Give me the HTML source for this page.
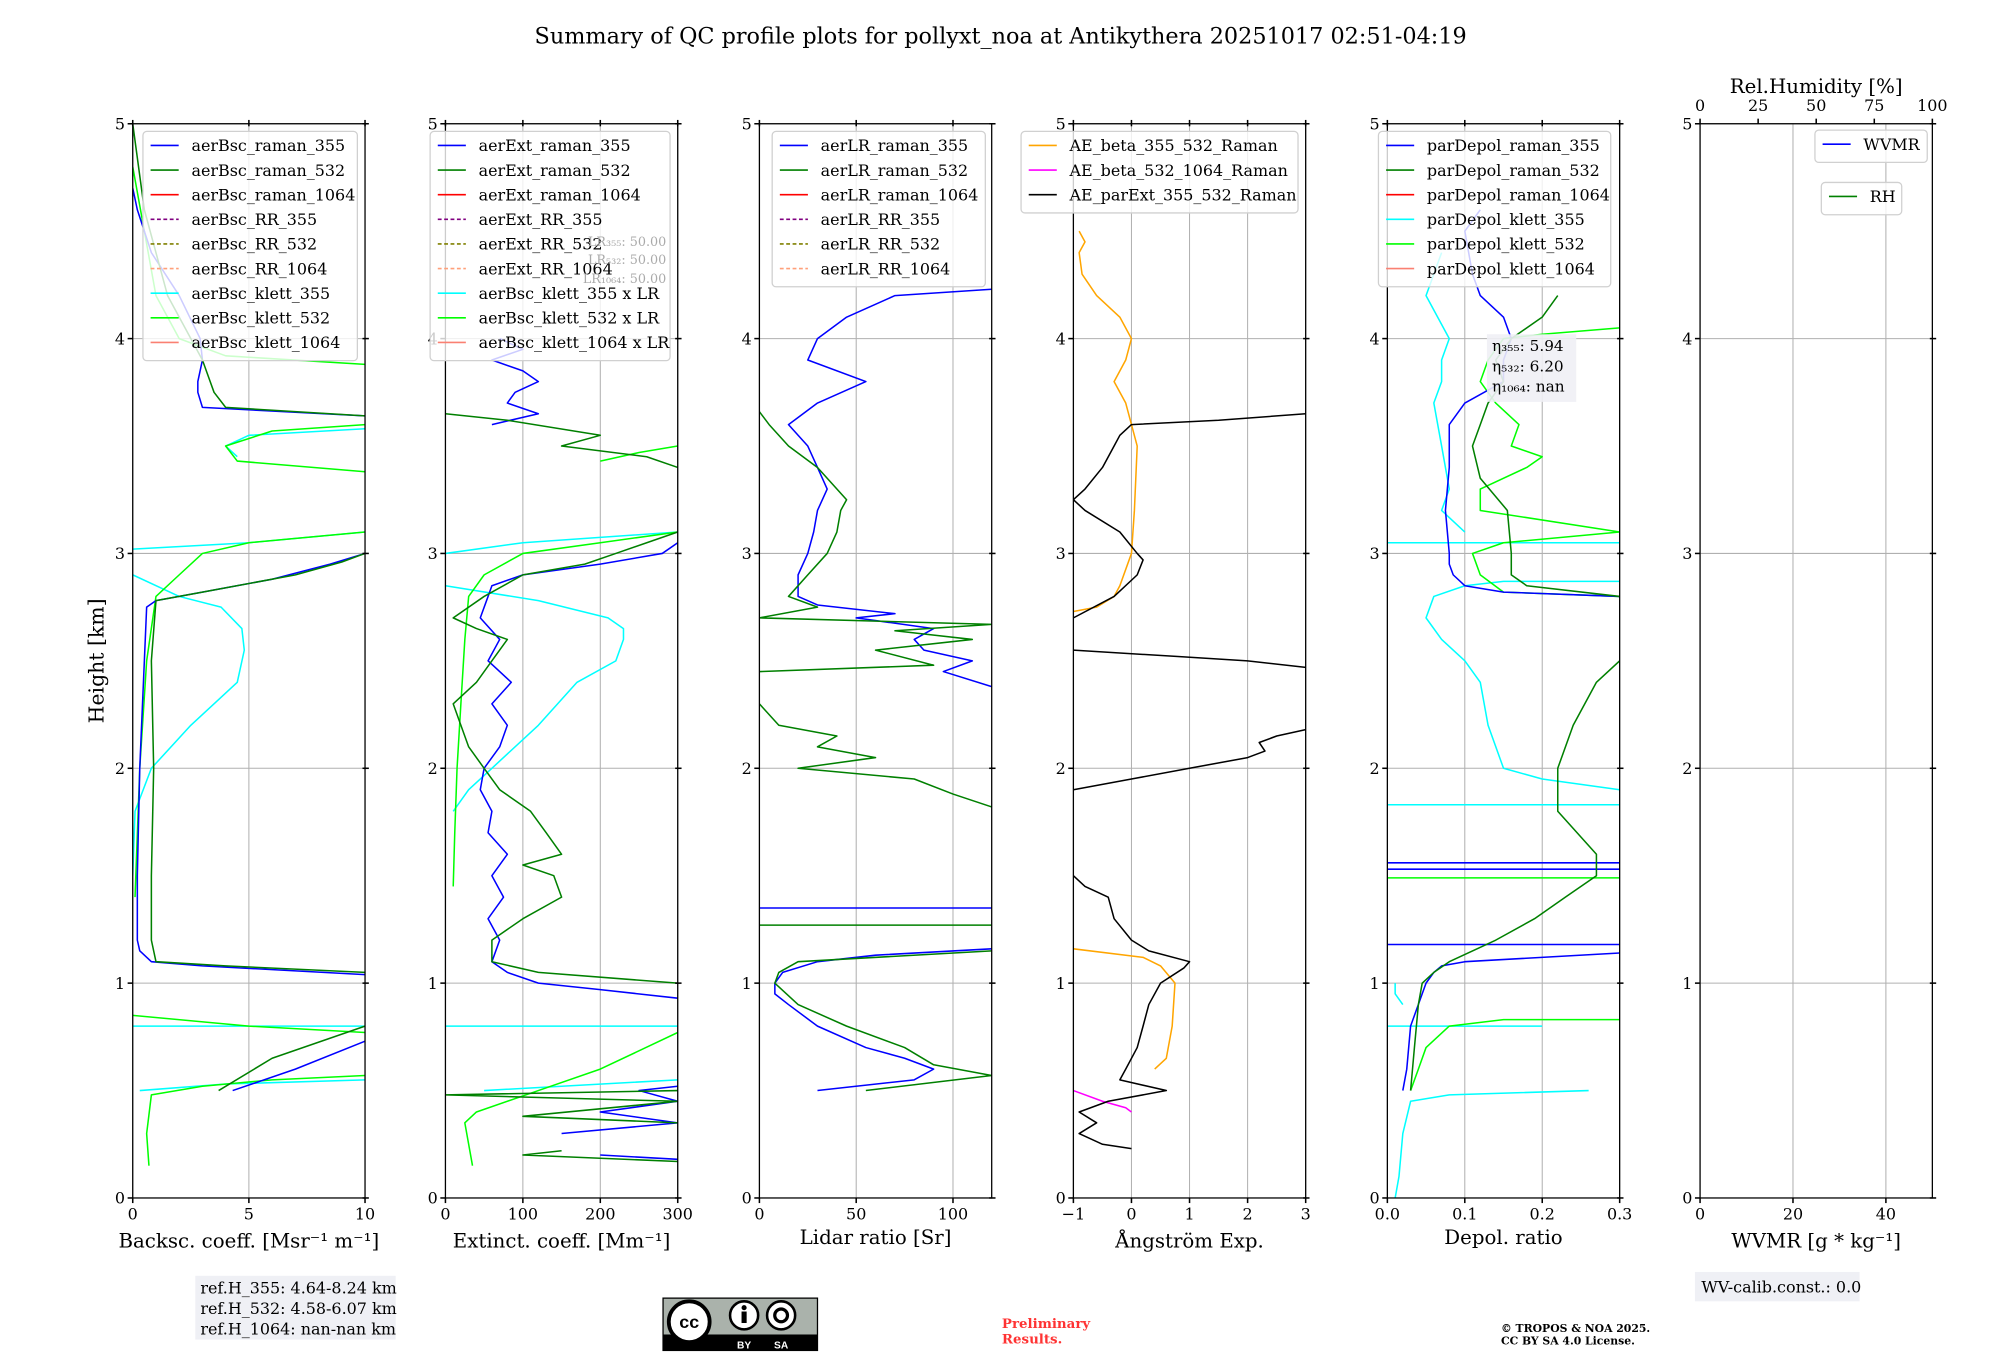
<!DOCTYPE html>
<html><head><meta charset="utf-8"><style>
html,body{margin:0;padding:0;background:#fff;}
svg{display:block;font-family:"DejaVu Serif","Liberation Serif",serif;}
</style></head><body>
<svg id="fig" width="2000" height="1360" viewBox="0 0 1567 1066" preserveAspectRatio="none" xmlns="http://www.w3.org/2000/svg">
<rect width="1567" height="1066" fill="#fff"/>
<text x="784" y="34" font-size="17.5" text-anchor="middle">Summary of QC profile plots for pollyxt_noa at Antikythera 20251017 02:51-04:19</text>
<text transform="translate(81,518) rotate(-90)" font-size="16" text-anchor="middle">Height [km]</text>
<g id="panels"></g>
<g id="extras">
<rect x="153" y="1000" width="157" height="50" fill="#eff0f5"/>
<text x="157" y="1014" font-size="12.5">ref.H_355: 4.64-8.24 km</text>
<text x="157" y="1030" font-size="12.5">ref.H_532: 4.58-6.07 km</text>
<text x="157" y="1046" font-size="12.5">ref.H_1064: nan-nan km</text>
<g>
<rect x="519" y="1017" width="122" height="42" fill="#000"/>
<rect x="520" y="1018" width="120" height="28" fill="#aab2ab"/>
<circle cx="540" cy="1036" r="16" fill="#fff" stroke="#000" stroke-width="3"/>
<text x="540" y="1041" font-size="14" font-weight="bold" text-anchor="middle" font-family="Liberation Sans,sans-serif">cc</text>
<circle cx="583" cy="1031" r="11" fill="#fff" stroke="#000" stroke-width="2"/>
<rect x="581" y="1028" width="4" height="9" fill="#000"/><circle cx="583" cy="1025" r="2" fill="#000"/>
<circle cx="612" cy="1031" r="11" fill="#fff" stroke="#000" stroke-width="2"/>
<circle cx="612" cy="1031" r="5" fill="none" stroke="#000" stroke-width="2.5"/>
<text x="583" y="1057" font-size="8" fill="#fff" text-anchor="middle" font-family="Liberation Sans,sans-serif" font-weight="bold">BY</text>
<text x="612" y="1057" font-size="8" fill="#fff" text-anchor="middle" font-family="Liberation Sans,sans-serif" font-weight="bold">SA</text>
</g>
<text x="785" y="1041" font-size="10.5" font-weight="bold" fill="#ff3333">Preliminary</text>
<text x="785" y="1053" font-size="10.5" font-weight="bold" fill="#ff3333">Results.</text>
<text x="1176" y="1044" font-size="8.5" font-weight="bold">© TROPOS &amp; NOA 2025.</text>
<text x="1176" y="1054" font-size="8.5" font-weight="bold">CC BY SA 4.0 License.</text>
<rect x="1328" y="997" width="129" height="23" fill="#eff0f5"/>
<text x="1333" y="1013" font-size="12.5">WV-calib.const.: 0.0</text>
</g>
</svg>
<script>
// ---- data: heights (km) and values; null breaks a line ----
const bsc355H = [0.5,0.6,0.73,null,1.04,1.08,1.1,1.15,1.2,1.5,2.0,2.5,2.75,2.78,2.82,2.88,2.95,3.0,null,3.64,3.68,3.75,3.8,3.9,4.0,4.2,4.4,4.6,4.7];
const bsc355V = [4.3,7,10,null,10,3,0.8,0.3,0.2,0.2,0.3,0.5,0.6,1,3,6,8.5,10,null,10,3,2.8,2.8,3,2.9,2,0.8,0.2,0];
const bsc532H = [0.5,0.65,0.8,null,1.05,1.08,1.1,1.2,1.5,2.0,2.5,2.78,2.82,2.9,2.96,3.0,null,3.64,3.68,3.75,3.9,4.2,4.6,5.0];
const bsc532V = [3.7,6,10,null,10,4,1,0.8,0.8,0.9,0.8,1,3,7,9,10,null,10,4,3.5,3,1.5,0.5,0];
const bscK355H = [0.5,0.53,0.55,null,0.8,0.8,null,1.5,1.8,2.0,2.2,2.4,2.55,2.65,2.75,2.8,2.9,null,3.02,3.05,3.1,null,3.45,3.5,3.55,3.58];
const bscK355V = [0.3,4,10,null,0,10,null,0,0.1,0.8,2.5,4.5,4.8,4.7,3.8,2,0,null,0,5,10,null,4.5,4,5,10];
const bscK532H = [0.15,0.3,0.48,0.52,0.55,0.57,null,0.85,0.8,0.77,null,1.4,2.0,2.5,2.8,2.9,3.0,3.05,3.1,null,3.38,3.43,3.5,3.57,3.6,null,3.88,3.92,4.0,4.2,4.5,4.8];
const bscK532V = [0.7,0.6,0.8,3,6,10,null,0,5,10,null,0.1,0.3,0.6,1,2,3,5,10,null,10,4.5,4,6,10,null,10,4,2,1,0.5,0];

const ext355H = [0.18,0.2,null,0.3,0.35,0.4,0.45,0.5,0.52,null,0.93,0.97,1.0,1.05,1.1,1.2,1.3,1.4,1.5,1.6,1.7,1.8,1.9,2.0,2.1,2.2,2.3,2.4,2.5,2.6,2.7,2.8,2.85,2.9,2.95,3.0,3.05,null,3.6,3.65,3.7,3.75,3.8,3.85,3.9,3.95,4.0];
const ext355V = [300,200,null,150,300,200,300,250,300,null,300,200,120,80,60,70,55,75,60,80,55,60,45,50,70,80,60,85,55,70,45,55,60,100,200,280,300,null,60,120,80,90,120,100,60,100,70];
const ext532H = [0.17,0.2,0.22,null,0.35,0.38,0.45,0.48,0.5,null,0.8,null,1.0,1.05,1.1,1.2,1.3,1.4,1.5,1.55,1.6,1.7,1.8,1.9,2.0,2.1,2.2,2.3,2.4,2.5,2.6,2.65,2.7,2.8,2.9,2.95,3.0,3.05,3.1,null,3.4,3.45,3.5,3.55,3.62,3.65];
const ext532V = [300,100,150,null,300,100,300,0,300,null,300,null,300,120,60,60,100,150,140,100,150,130,110,70,50,30,20,10,40,60,80,40,10,50,100,180,220,260,300,null,300,260,150,200,80,0];
const extK355H = [0.5,0.52,0.55,null,0.8,0.8,null,1.8,1.9,2.0,2.2,2.4,2.5,2.6,2.65,2.7,2.78,2.85,null,3.0,3.05,3.1];
const extK355V = [50,150,300,null,0,300,null,10,30,60,120,170,220,230,230,210,120,0,null,0,100,300];
const extK532H = [0.15,0.25,0.35,0.4,0.5,0.6,0.77,null,1.45,1.7,2.0,2.3,2.6,2.8,2.9,3.0,3.05,3.1,null,3.43,3.47,3.5];
const extK532V = [35,30,25,40,120,200,300,null,10,12,15,20,25,30,50,100,200,300,null,200,250,300];

const lr355H = [0.5,0.55,0.6,0.65,0.7,0.8,0.9,0.95,1.0,1.05,1.1,1.13,1.16,null,1.35,1.35,null,2.38,2.45,2.5,2.55,2.6,2.65,2.7,2.72,2.76,2.8,2.9,3.0,3.1,3.2,3.3,3.4,3.5,3.6,3.7,3.8,3.9,4.0,4.1,4.2,4.23];
const lr355V = [30,80,90,75,55,30,15,8,8,12,30,60,120,null,0,120,null,120,95,110,85,80,90,50,70,30,20,20,25,28,30,35,30,25,15,30,55,25,30,45,70,120];
const lr532H = [0.5,0.57,0.62,0.7,0.8,0.9,1.0,1.05,1.1,1.15,null,1.27,1.27,null,1.82,1.88,1.95,2.0,2.05,2.1,2.15,2.2,2.3,null,2.45,2.48,2.55,2.6,2.64,2.67,2.7,2.75,2.8,2.9,3.0,3.1,3.2,3.25,3.3,3.4,3.5,3.6,3.66];
const lr532V = [55,120,90,75,45,20,8,10,20,120,null,0,120,null,120,100,80,20,60,30,40,10,0,null,0,90,60,110,70,120,0,30,15,25,35,40,42,45,40,30,15,5,0];

const aeBetaH = [0.6,0.65,0.8,1.0,1.08,1.12,1.16,null,2.73,2.75,2.8,2.85,3.0,3.2,3.5,3.7,3.8,3.9,4.0,4.1,4.2,4.3,4.4,4.45,4.5];
const aeBetaV = [0.4,0.6,0.7,0.75,0.5,0.2,-1,null,-1,-0.6,-0.3,-0.2,0,0.05,0.1,-0.1,-0.3,-0.1,0,-0.2,-0.6,-0.85,-0.9,-0.8,-0.9];
const ae1064H = [0.5,0.45,0.42,0.4];
const ae1064V = [-1,-0.5,-0.1,0];
const aeExtH = [0.23,0.25,0.3,0.35,0.4,0.45,0.5,0.55,0.6,0.7,0.8,0.9,1.0,1.07,1.1,1.15,1.2,1.3,1.4,1.45,1.5,null,1.9,1.95,2.0,2.05,2.08,2.12,2.15,2.18,null,2.55,2.52,2.5,2.47,null,2.7,2.8,2.9,2.97,3.0,3.1,3.2,3.25,3.3,3.4,3.5,3.55,3.6,3.62,3.65];
const aeExtV = [0,-0.5,-0.9,-0.6,-0.9,-0.4,0.6,-0.2,-0.1,0.1,0.2,0.3,0.5,0.9,1,0.3,0,-0.3,-0.4,-0.8,-1,null,-1,0,1,2,2.3,2.2,2.5,3,null,-1,0.8,2,3,null,-1,-0.3,0.1,0.2,0.1,-0.2,-0.8,-1,-0.8,-0.5,-0.3,-0.2,0,1.5,3];

const dp355H = [0.5,0.6,0.8,1.0,1.05,1.08,1.1,1.14,null,1.18,1.18,null,1.53,1.53,null,1.56,1.56,null,2.8,2.82,2.85,2.9,2.95,3.0,3.2,3.4,3.6,3.7,3.8,3.9,4.0,4.1,4.2,4.3,4.5,4.6];
const dp355V = [0.02,0.025,0.03,0.05,0.06,0.07,0.1,0.3,null,0,0.3,null,0,0.3,null,0,0.3,null,0.3,0.15,0.1,0.085,0.08,0.08,0.075,0.08,0.08,0.1,0.15,0.15,0.16,0.15,0.12,0.11,0.1,0.12];
const dp532H = [0.5,0.7,0.9,1.0,1.05,1.1,1.2,1.3,1.4,1.5,1.6,1.8,2.0,2.2,2.4,2.5,null,2.8,2.85,2.9,3.0,3.2,3.35,3.5,3.6,3.7,3.8,3.9,4.0,4.1,4.2];
const dp532V = [0.03,0.035,0.04,0.045,0.06,0.08,0.14,0.19,0.23,0.27,0.27,0.22,0.22,0.24,0.27,0.3,null,0.3,0.18,0.16,0.16,0.155,0.12,0.11,0.12,0.13,0.15,0.14,0.16,0.2,0.22];
const dpK355H = [0,0.1,0.3,0.45,0.48,0.5,null,0.8,0.8,null,1.0,0.95,0.9,null,1.83,1.83,null,1.9,1.95,2.0,2.2,2.4,2.5,2.6,2.7,2.8,2.85,2.87,2.87,null,3.05,3.05,null,3.1,3.2,3.3,3.5,3.7,3.8,3.9,4.0,4.2,4.4];
const dpK355V = [0.01,0.015,0.02,0.03,0.08,0.26,null,0,0.2,null,0.01,0.01,0.02,null,0,0.3,null,0.3,0.2,0.15,0.13,0.12,0.1,0.07,0.05,0.06,0.1,0.15,0.3,null,0,0.3,null,0.1,0.07,0.08,0.07,0.06,0.07,0.07,0.08,0.05,0.07];
const dpK532H = [0.5,0.6,0.7,0.8,0.83,0.83,null,1.49,1.49,null,2.8,2.82,2.9,3.0,3.05,3.1,3.2,3.3,3.4,3.45,3.5,3.6,3.7,3.8,3.9,4.0,4.02,4.05];
const dpK532V = [0.03,0.04,0.05,0.08,0.15,0.3,null,0,0.3,null,0.3,0.15,0.12,0.11,0.15,0.3,0.12,0.12,0.18,0.2,0.16,0.17,0.14,0.12,0.13,0.15,0.2,0.3];

const heightTicks = [0,1,2,3,4,5];
const panelXTicks = [[0,5,10],[0,100,200,300],[0,50,100],[-1,0,1,2,3],[0.0,0.1,0.2,0.3],[0,20,40]];
const panelXTickLabels = [["0","5","10"],["0","100","200","300"],["0","50","100"],["\u22121","0","1","2","3"],["0.0","0.1","0.2","0.3"],["0","20","40"]];
const panelXRange = [[0,10],[0,300],[0,120],[-1,3],[0,0.3],[0,50]];
const rhTicks = [0,25,50,75,100];

const NS = "http://www.w3.org/2000/svg";
const panelLeft = [104,349,595,841,1087,1332];
const PW = 182, Y0 = 939, Y5 = 97;
const panelsG = document.getElementById('panels');
function yS(h){ return Y0 + (Y5-Y0)*h/5; }
function mk(tag, attrs, parent){ const e = document.createElementNS(NS, tag); for (const k in attrs) e.setAttribute(k, attrs[k]); parent.appendChild(e); return e; }

const xlabels = ["Backsc. coeff. [Msr\u207B\u00B9 m\u207B\u00B9]","Extinct. coeff. [Mm\u207B\u00B9]","Lidar ratio [Sr]","\u00C5ngstr\u00F6m Exp.","Depol. ratio","WVMR [g * kg\u207B\u00B9]"];
const xlabelNames = ["backscatter-x-axis-title","extinction-x-axis-title","lidar-ratio-x-axis-title","angstrom-x-axis-title","depol-x-axis-title","wvmr-x-axis-title"];
const panelNames = ["backscatter-panel","extinction-panel","lidar-ratio-panel","angstrom-panel","depol-panel","wvmr-panel"];

const panels = [];
for (let p=0;p<6;p++){
  const L = panelLeft[p];
  const g = mk('g',{},panelsG);
  
  
  const [a,b] = panelXRange[p];
  const xS = v => L + (v-a)/(b-a)*PW;
  const clip = mk('clipPath',{id:'clip'+p},g);
  mk('rect',{x:L,y:Y5,width:PW,height:Y0-Y5},clip);
  panelXTicks[p].forEach(t=>{ mk('line',{x1:xS(t),x2:xS(t),y1:Y5,y2:Y0,stroke:'#b0b0b0','stroke-width':0.8},g); });
  heightTicks.forEach(t=>{ mk('line',{x1:L,x2:L+PW,y1:yS(t),y2:yS(t),stroke:'#b0b0b0','stroke-width':0.8},g); });
  const data = mk('g',{'clip-path':'url(#clip'+p+')'},g);
  panels.push({g,data,xS,L});
}

function drawLine(p, hs, vs, color, name, w){
  const P = panels[p];
  let d='', pen=false;
  for (let i=0;i<hs.length;i++){
    if (hs[i]===null){ pen=false; continue; }
    d += (pen?'L':'M') + P.xS(vs[i]).toFixed(1) + ' ' + yS(hs[i]).toFixed(1) + ' ';
    pen=true;
  }
  const e = mk('path',{d:d,fill:'none',stroke:color,'stroke-width':w||1.2,'stroke-linejoin':'round'},P.data);
  
  
}

drawLine(0,bscK355H,bscK355V,'#00ffff','aerbsc-klett-355-line');
drawLine(0,bscK532H,bscK532V,'#00ff00','aerbsc-klett-532-line');
drawLine(0,bsc355H,bsc355V,'#0000ff','aerbsc-raman-355-line');
drawLine(0,bsc532H,bsc532V,'#008000','aerbsc-raman-532-line');
drawLine(1,extK355H,extK355V,'#00ffff','aerbsc-klett-355-lr-line');
drawLine(1,extK532H,extK532V,'#00ff00','aerbsc-klett-532-lr-line');
drawLine(1,ext355H,ext355V,'#0000ff','aerext-raman-355-line');
drawLine(1,ext532H,ext532V,'#008000','aerext-raman-532-line');
drawLine(2,lr355H,lr355V,'#0000ff','aerlr-raman-355-line');
drawLine(2,lr532H,lr532V,'#008000','aerlr-raman-532-line');
drawLine(3,aeBetaH,aeBetaV,'#ffa500','ae-beta-355-532-line');
drawLine(3,ae1064H,ae1064V,'#ff00ff','ae-beta-532-1064-line');
drawLine(3,aeExtH,aeExtV,'#000000','ae-parext-355-532-line');
drawLine(4,dpK355H,dpK355V,'#00ffff','pardepol-klett-355-line');
drawLine(4,dpK532H,dpK532V,'#00ff00','pardepol-klett-532-line');
drawLine(4,dp355H,dp355V,'#0000ff','pardepol-raman-355-line');
drawLine(4,dp532H,dp532V,'#008000','pardepol-raman-532-line');

for (let p=0;p<6;p++){
  const P = panels[p], L = P.L, g = P.g;
  mk('rect',{x:L,y:Y5,width:PW,height:Y0-Y5,fill:'none',stroke:'#000','stroke-width':1},g);
  heightTicks.forEach(t=>{
    mk('line',{x1:L-4,x2:L,y1:yS(t),y2:yS(t),stroke:'#000','stroke-width':1.2},g);
    mk('line',{x1:L+PW-2,x2:L+PW+3,y1:yS(t),y2:yS(t),stroke:'#000','stroke-width':1.2},g);
    const tx = mk('text',{x:L-6,y:yS(t)+4.5,'font-size':12.5,'text-anchor':'end'},g);
    tx.textContent = String(t);
    
    
  });
  panelXTicks[p].forEach((t,i)=>{
    mk('line',{x1:P.xS(t),x2:P.xS(t),y1:Y0,y2:Y0+4,stroke:'#000','stroke-width':1.2},g);
    if (p!==5) mk('line',{x1:P.xS(t),x2:P.xS(t),y1:Y5-3,y2:Y5+2,stroke:'#000','stroke-width':1.2},g);
    const tx = mk('text',{x:P.xS(t),y:Y0+17,'font-size':12.5,'text-anchor':'middle'},g);
    tx.textContent = panelXTickLabels[p][i];
    
    
  });
  const xl = mk('text',{x:L+PW/2,y:(p===2||p===4)?975:978,'font-size':15.5,'text-anchor':'middle'},g);
  xl.textContent = xlabels[p];
  
  
}
{
  const g = panels[5].g, L = panels[5].L;
  rhTicks.forEach(t=>{
    const x = L + t/100*PW;
    mk('line',{x1:x,x2:x,y1:Y5-4,y2:Y5,stroke:'#000','stroke-width':1.2},g);
    const tx = mk('text',{x:x,y:Y5-10,'font-size':12.5,'text-anchor':'middle'},g);
    tx.textContent = String(t);
    
    
  });
  const t = mk('text',{x:L+PW/2,y:73,'font-size':15.5,'text-anchor':'middle'},g);
  t.textContent = 'Rel.Humidity [%]';
  
  
}

function legend(p, x, y, w, entries, rowH){
  const g = mk('g',{},panels[p].g);
  
  
  const h = entries.length*rowH + 6;
  mk('rect',{x:x,y:y,width:w,height:h,rx:3,fill:'rgba(255,255,255,0.8)',stroke:'#d0d0d0','stroke-width':1},g);
  entries.forEach((e,i)=>{
    const cy = y + 11 + i*rowH;
    const ln = mk('line',{x1:x+6,x2:x+28,y1:cy,y2:cy,stroke:e[1],'stroke-width':1.3},g);
    if (e[2]) ln.setAttribute('stroke-dasharray','3,2');
    const t = mk('text',{x:x+38,y:cy+4.5,'font-size':12.5},g);
    t.textContent = e[0];
    
    
  });
}
legend(0,112,103,168,[['aerBsc_raman_355','#0000ff'],['aerBsc_raman_532','#008000'],['aerBsc_raman_1064','#ff0000'],['aerBsc_RR_355','#800080',1],['aerBsc_RR_532','#808000',1],['aerBsc_RR_1064','#ffa07a',1],['aerBsc_klett_355','#00ffff'],['aerBsc_klett_532','#00ff00'],['aerBsc_klett_1064','#fa8072']],19.3);
legend(1,337,103,188,[['aerExt_raman_355','#0000ff'],['aerExt_raman_532','#008000'],['aerExt_raman_1064','#ff0000'],['aerExt_RR_355','#800080',1],['aerExt_RR_532','#808000',1],['aerExt_RR_1064','#ffa07a',1],['aerBsc_klett_355 x LR','#00ffff'],['aerBsc_klett_532 x LR','#00ff00'],['aerBsc_klett_1064 x LR','#fa8072']],19.3);
legend(2,605,103,167,[['aerLR_raman_355','#0000ff'],['aerLR_raman_532','#008000'],['aerLR_raman_1064','#ff0000'],['aerLR_RR_355','#800080',1],['aerLR_RR_532','#808000',1],['aerLR_RR_1064','#ffa07a',1]],19.3);
legend(3,800,103,217,[['AE_beta_355_532_Raman','#ffa500'],['AE_beta_532_1064_Raman','#ff00ff'],['AE_parExt_355_532_Raman','#000000']],19.3);
legend(4,1080,103,182,[['parDepol_raman_355','#0000ff'],['parDepol_raman_532','#008000'],['parDepol_raman_1064','#ff0000'],['parDepol_klett_355','#00ffff'],['parDepol_klett_532','#00ff00'],['parDepol_klett_1064','#fa8072']],19.3);
legend(5,1422,102,88,[['WVMR','#0000ff']],19.3);
legend(5,1427,143,63,[['RH','#008000']],19.3);

{
  const g = panels[1].g;
  [['LR\u2083\u2085\u2085: 50.00',193],['LR\u2085\u2083\u2082: 50.00',207],['LR\u2081\u2080\u2086\u2084: 50.00',222]].forEach(a=>{
    const t = mk('text',{x:522,y:a[1],'font-size':10,'text-anchor':'end',fill:'#aaaaaa'},g);
    t.textContent = a[0];
    
    
  });
}
{
  const g = panels[4].g;
  mk('rect',{x:1165,y:262,width:70,height:53,fill:'rgba(239,240,245,0.9)'},g);
  [['\u03B7\u2083\u2085\u2085: 5.94',275],['\u03B7\u2085\u2083\u2082: 6.20',291],['\u03B7\u2081\u2080\u2086\u2084: nan',307]].forEach(a=>{
    const t = mk('text',{x:1169,y:a[1],'font-size':12},g);
    t.textContent = a[0];
    
    
  });
}
</script>
</body></html>
